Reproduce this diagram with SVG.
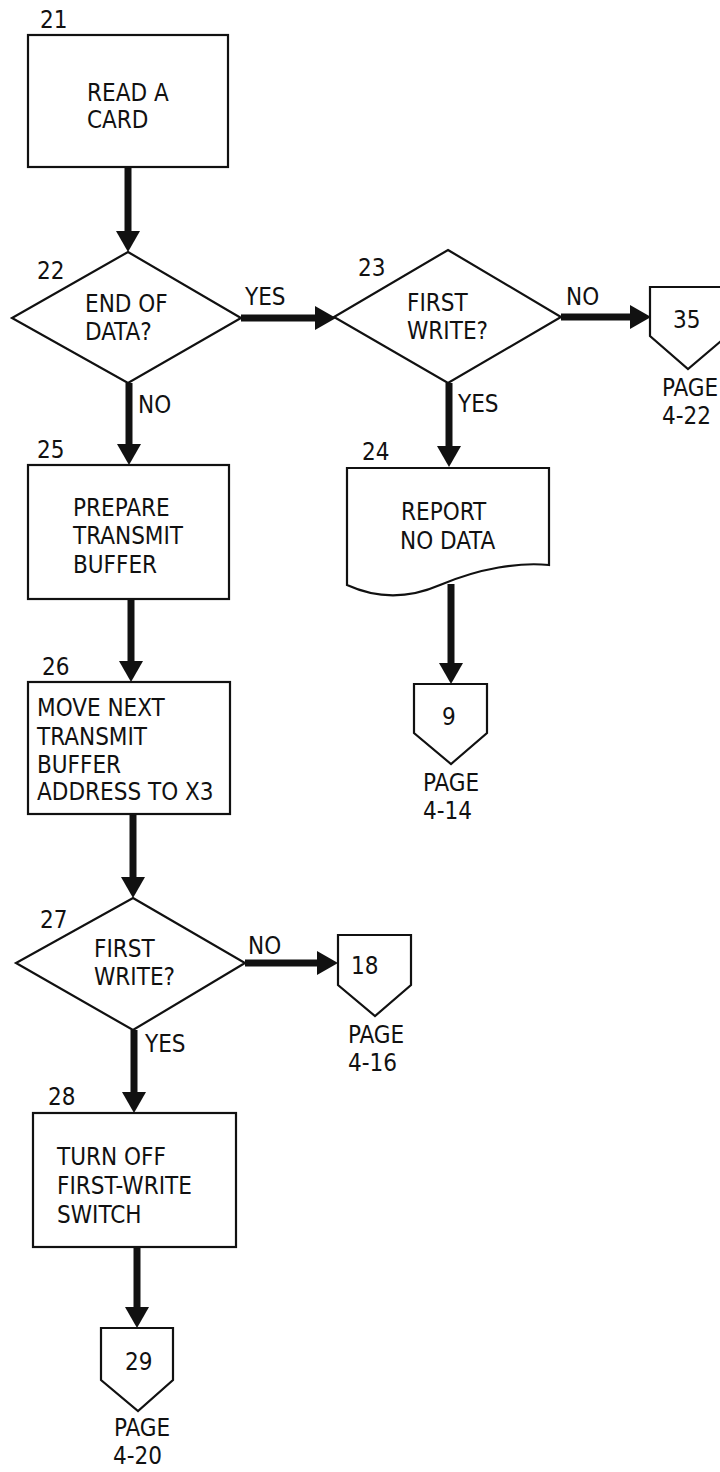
<svg xmlns="http://www.w3.org/2000/svg" width="720" height="1472" viewBox="0 0 720 1472">
<style>
text{font-family:'DejaVu Sans Condensed','DejaVu Sans',sans-serif;font-stretch:condensed;font-size:24px;fill:#111}
.shape{fill:#fff;stroke:#111;stroke-width:2.2}
.flow{fill:none;stroke:#111;stroke-width:7}
</style>
<defs>
<marker id="ah" markerUnits="userSpaceOnUse" markerWidth="22" markerHeight="26" viewBox="0 0 22 26" refX="0" refY="13" orient="auto">
<path d="M0,1 L21,13 L0,25 z" fill="#111"/>
</marker>
</defs>
<rect width="720" height="1472" fill="#fff"/>
<g id="connectors">
<path class="flow" d="M128,167 V231" marker-end="url(#ah)"/>
<path class="flow" d="M241,318 H315" marker-end="url(#ah)"/>
<path class="flow" d="M561,317 H630" marker-end="url(#ah)"/>
<path class="flow" d="M129,383 V444" marker-end="url(#ah)"/>
<path class="flow" d="M449,383 V446" marker-end="url(#ah)"/>
<path class="flow" d="M131,599 V661" marker-end="url(#ah)"/>
<path class="flow" d="M451,584 V663" marker-end="url(#ah)"/>
<path class="flow" d="M133,814 V877" marker-end="url(#ah)"/>
<path class="flow" d="M245,963 H317" marker-end="url(#ah)"/>
<path class="flow" d="M134,1030 V1092" marker-end="url(#ah)"/>
<path class="flow" d="M137,1247 V1307" marker-end="url(#ah)"/>
<text x="245" y="305">YES</text>
<text x="566" y="305">NO</text>
<text x="138" y="413">NO</text>
<text x="458" y="412">YES</text>
<text x="248" y="954">NO</text>
<text x="145" y="1052">YES</text>
</g>
<g id="n21">
<text x="40" y="28">21</text>
<rect class="shape" x="28" y="35" width="200" height="132"/>
<text x="87" y="101">READ A</text>
<text x="87" y="128">CARD</text>
</g>
<g id="n22">
<text x="37" y="279">22</text>
<polygon class="shape" points="128,252 241,318 128,383 12,318"/>
<text x="85" y="312">END OF</text>
<text x="85" y="340">DATA?</text>
</g>
<g id="n23">
<text x="358" y="276">23</text>
<polygon class="shape" points="448,250 561,317 448,383 334,317"/>
<text x="407" y="311">FIRST</text>
<text x="407" y="339">WRITE?</text>
</g>
<g id="c35">
<polygon class="shape" points="650,287 727,287 727,336 688,369 650,336"/>
<text x="673" y="328">35</text>
<text x="662" y="396">PAGE</text>
<text x="662" y="424">4-22</text>
</g>
<g id="n24">
<text x="362" y="460">24</text>
<path class="shape" d="M347,468 H549 V565 C520,562 480,568 440,585 C410,598 380,600 347,585 Z"/>
<text x="401" y="520">REPORT</text>
<text x="400" y="549">NO DATA</text>
</g>
<g id="c9">
<polygon class="shape" points="414,684 487,684 487,733 451,764 414,733"/>
<text x="442" y="725">9</text>
<text x="423" y="791">PAGE</text>
<text x="423" y="819">4-14</text>
</g>
<g id="n25">
<text x="37" y="458">25</text>
<rect class="shape" x="28" y="465" width="201" height="134"/>
<text x="73" y="516">PREPARE</text>
<text x="73" y="544">TRANSMIT</text>
<text x="73" y="573">BUFFER</text>
</g>
<g id="n26">
<text x="42" y="675">26</text>
<rect class="shape" x="28" y="682" width="202" height="132"/>
<text x="37" y="716">MOVE NEXT</text>
<text x="37" y="745">TRANSMIT</text>
<text x="37" y="773">BUFFER</text>
<text x="37" y="800">ADDRESS TO X3</text>
</g>
<g id="n27">
<text x="40" y="928">27</text>
<polygon class="shape" points="133,898 245,963 133,1030 16,963"/>
<text x="94" y="957">FIRST</text>
<text x="94" y="985">WRITE?</text>
</g>
<g id="c18">
<polygon class="shape" points="338,935 411,935 411,985 375,1016 338,985"/>
<text x="351" y="974">18</text>
<text x="348" y="1043">PAGE</text>
<text x="348" y="1071">4-16</text>
</g>
<g id="n28">
<text x="48" y="1105">28</text>
<rect class="shape" x="33" y="1113" width="203" height="134"/>
<text x="57" y="1165">TURN OFF</text>
<text x="57" y="1194">FIRST-WRITE</text>
<text x="57" y="1223">SWITCH</text>
</g>
<g id="c29">
<polygon class="shape" points="101,1328 173,1328 173,1380 138,1411 101,1380"/>
<text x="125" y="1370">29</text>
<text x="114" y="1436">PAGE</text>
<text x="113" y="1464">4-20</text>
</g>
</svg>
